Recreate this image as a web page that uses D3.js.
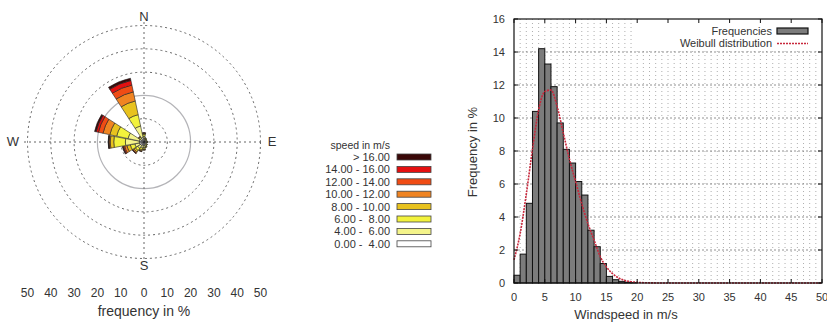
<!DOCTYPE html>
<html>
<head>
<meta charset="utf-8">
<script src="https://cdn.jsdelivr.net/npm/d3@7"></script>
<style>
  body { margin: 0; background: #fff; }
  svg text { font-family: "Liberation Sans", Arial, sans-serif; fill: #333; }
</style>
</head>
<body>
<svg id="chart" width="827" height="326"></svg>
<script>
// ── Wind rose data: 16 directions, % per speed class ──
const directions = ["N","NNE","NE","ENE","E","ESE","SE","SSE","S","SSW","SW","WSW","W","WNW","NW","NNW"];
const speedClasses = ["0.00 -  4.00","4.00 -  6.00","6.00 -  8.00","8.00 - 10.00","10.00 - 12.00","12.00 - 14.00","14.00 - 16.00","> 16.00"];
const classColors  = ["#ffffff","#f4f48a","#f2f23c","#e8c21e","#f08422","#f04c14","#e41010","#3a0808"];
const roseValues = [
  [1.5, 1.0, 0.8, 0.4, 0.2, 0.1, 0,   0  ],  // N
  [1.0, 0.5, 0.3, 0.1, 0,   0,   0,   0  ],  // NNE
  [0.8, 0.4, 0.2, 0.1, 0,   0,   0,   0  ],  // NE
  [0.8, 0.3, 0.2, 0,   0,   0,   0,   0  ],  // ENE
  [1.0, 0.4, 0.2, 0.1, 0,   0,   0,   0  ],  // E
  [0.8, 0.3, 0.1, 0,   0,   0,   0,   0  ],  // ESE
  [1.0, 0.5, 0.3, 0.1, 0,   0,   0,   0  ],  // SE
  [1.2, 0.7, 0.4, 0.2, 0,   0,   0,   0  ],  // SSE
  [1.5, 1.0, 0.6, 0.3, 0.1, 0,   0,   0  ],  // S
  [1.5, 1.2, 0.8, 0.5, 0.2, 0.1, 0,   0  ],  // SSW
  [1.8, 1.5, 1.2, 0.8, 0.5, 0.2, 0.1, 0  ],  // SW
  [2.0, 2.0, 2.0, 1.5, 1.0, 0.5, 0.3, 0.2],  // WSW
  [2.0, 6.0, 5.0, 1.5, 0.5, 0.2, 0.1, 0.1],  // W
  [2.0, 5.0, 5.0, 3.0, 3.0, 2.0, 1.0, 0.7],  // WNW
  [1.2, 0.8, 0.5, 0.3, 0.2, 0,   0,   0  ],  // NW
  [2.0, 5.0, 5.0, 6.0, 4.0, 3.0, 2.0, 1.0]   // NNW
];
const roseRings = [10, 20, 30, 40, 50];
const roseTicks = [-50, -40, -30, -20, -10, 0, 10, 20, 30, 40, 50];

// ── Histogram data: 1 m/s bins starting at 0 ──
const binStarts = d3.range(0, 20);
const binFreq = [0.47, 1.75, 4.83, 10.4, 14.2, 13.27, 11.9, 9.7, 8.1, 7.27,
                 6.15, 5.33, 3.2, 2.2, 1.18, 0.4, 0.2, 0.1, 0.05, 0.02];
const weibullX = [0, 1, 2, 3, 4, 5, 6, 7, 8, 9, 10, 11, 12, 13, 14, 15, 16, 17, 18, 19, 20, 22, 25, 30, 40, 50];
const weibullY = [1.4, 3.0, 5.4, 8.1, 10.5, 11.6, 11.7, 10.7, 9.1, 7.5, 6.15, 4.8, 3.6, 2.6, 1.6, 0.97, 0.57, 0.3, 0.15, 0.08, 0.04, 0.01, 0, 0, 0, 0];
const xTicks = d3.range(0, 51, 5);
const yTicks = d3.range(0, 17, 2);

const svg = d3.select("#chart");

// ════════ Wind rose ════════
const cx = 144, cy = 142;
const r = d3.scaleLinear().domain([0, 50]).range([0, 116.5]);
const rose = svg.append("g").attr("transform", `translate(${cx},${cy})`);

roseRings.forEach(v => {
  rose.append("circle")
    .attr("r", r(v))
    .attr("fill", "none")
    .attr("stroke", v === 20 ? "#b4b4b8" : "#666")
    .attr("stroke-width", v === 20 ? 1.2 : 1)
    .attr("stroke-dasharray", v === 20 ? null : "2,3");
});
rose.append("line").attr("x1", 0).attr("x2", 0).attr("y1", -r(51.5)).attr("y2", r(51.5))
  .attr("stroke", "#666").attr("stroke-dasharray", "2,3");
rose.append("line").attr("y1", 0).attr("y2", 0).attr("x1", -r(51.5)).attr("x2", r(51.5))
  .attr("stroke", "#666").attr("stroke-dasharray", "2,3");

const arc = d3.arc();
const halfW = 10.5 * Math.PI / 180;
directions.forEach((dir, i) => {
  const a = i * 22.5 * Math.PI / 180;
  let acc = 0;
  roseValues[i].forEach((v, k) => {
    if (v <= 0) return;
    rose.append("path")
      .attr("d", arc({innerRadius: r(acc), outerRadius: r(acc + v), startAngle: a - halfW, endAngle: a + halfW}))
      .attr("fill", classColors[k])
      .attr("stroke", "#222")
      .attr("stroke-width", 0.6);
    acc += v;
  });
});

// compass labels
[["N", 0, -121], ["S", 0, 128], ["W", -131, 3.5], ["E", 128, 3.5]].forEach(([t, x, y]) => {
  rose.append("text").attr("x", x).attr("y", y).attr("text-anchor", "middle")
    .attr("font-size", 13).text(t);
});
rose.selectAll("text.rtick").data(roseTicks).join("text")
  .attr("class", "rtick")
  .attr("x", d => d < 0 ? -r(-d) : r(d))
  .attr("y", 155)
  .attr("text-anchor", "middle")
  .attr("font-size", 12)
  .text(d => Math.abs(d));
rose.append("text").attr("x", 0).attr("y", 174).attr("text-anchor", "middle")
  .attr("font-size", 14).text("frequency in %");

// ── Speed legend ──
const lg = svg.append("g").attr("transform", "translate(390,0)");
lg.append("text").attr("x", 0).attr("y", 148.5).attr("text-anchor", "end")
  .attr("font-size", 10.5).text("speed in m/s");
speedClasses.slice().reverse().forEach((label, j) => {
  const y = 157 + j * 12.4;
  lg.append("text").attr("x", 0).attr("y", y + 4).attr("text-anchor", "end")
    .attr("font-size", 11).attr("xml:space", "preserve").text(label);
  lg.append("rect").attr("x", 7).attr("y", y - 3).attr("width", 34).attr("height", 6)
    .attr("fill", classColors[classColors.length - 1 - j])
    .attr("stroke", "#444").attr("stroke-width", 0.8);
});

// ════════ Histogram ════════
const L = 514, R = 822, T = 19, B = 283;
const x = d3.scaleLinear().domain([0, 50]).range([L, R]);
const y = d3.scaleLinear().domain([0, 16]).range([B, T]);
const hg = svg.append("g");

// grid
hg.selectAll("line.vgrid").data(d3.range(1, 50)).join("line")
  .attr("class", "vgrid")
  .attr("x1", d => x(d)).attr("x2", d => x(d)).attr("y1", T).attr("y2", B)
  .attr("stroke", "#999").attr("stroke-width", 0.8).attr("stroke-dasharray", "1,3");
hg.selectAll("line.hgrid").data(yTicks.slice(1, -1)).join("line")
  .attr("class", "hgrid")
  .attr("y1", d => y(d)).attr("y2", d => y(d)).attr("x1", L).attr("x2", R)
  .attr("stroke", "#777").attr("stroke-width", 0.8).attr("stroke-dasharray", "2,2");

// legend background hides grid
hg.append("rect").attr("x", 632).attr("y", T).attr("width", R - 632).attr("height", 31).attr("fill", "#fff");

// bars
hg.selectAll("rect.bar").data(binStarts).join("rect")
  .attr("class", "bar")
  .attr("x", d => x(d)).attr("width", d => x(d + 1) - x(d))
  .attr("y", (d, i) => y(binFreq[i])).attr("height", (d, i) => B - y(binFreq[i]))
  .attr("fill", "#7c7c7c").attr("stroke", "#111").attr("stroke-width", 1);

// Weibull curve
hg.append("path")
  .datum(weibullX.map((v, i) => [v, weibullY[i]]))
  .attr("d", d3.line().x(d => x(d[0])).y(d => y(d[1])).curve(d3.curveMonotoneX))
  .attr("fill", "none").attr("stroke", "#c8283c").attr("stroke-width", 1.6)
  .attr("stroke-dasharray", "2,1");

// frame
hg.append("rect").attr("x", L).attr("y", T).attr("width", R - L).attr("height", B - T)
  .attr("fill", "none").attr("stroke", "#111").attr("stroke-width", 1.2);

// ticks
xTicks.forEach(t => {
  hg.append("line").attr("x1", x(t)).attr("x2", x(t)).attr("y1", B).attr("y2", B - 4).attr("stroke", "#111");
  hg.append("line").attr("x1", x(t)).attr("x2", x(t)).attr("y1", T).attr("y2", T + 4).attr("stroke", "#111");
});
yTicks.forEach(t => {
  hg.append("line").attr("x1", L).attr("x2", L + 4).attr("y1", y(t)).attr("y2", y(t)).attr("stroke", "#111");
  hg.append("line").attr("x1", R).attr("x2", R - 4).attr("y1", y(t)).attr("y2", y(t)).attr("stroke", "#111");
});
hg.selectAll("text.xt").data(xTicks).join("text")
  .attr("class", "xt").attr("x", d => x(d)).attr("y", 301)
  .attr("text-anchor", "middle").attr("font-size", 11).text(d => d);
hg.selectAll("text.yt").data(yTicks).join("text")
  .attr("class", "yt").attr("x", 505).attr("y", d => y(d) + 4)
  .attr("text-anchor", "end").attr("font-size", 11).text(d => d);

hg.append("text").attr("x", 626).attr("y", 319).attr("text-anchor", "middle")
  .attr("font-size", 13).text("Windspeed in m/s");
hg.append("text").attr("transform", "translate(477,152) rotate(-90)")
  .attr("text-anchor", "middle").attr("font-size", 13).text("Frequency in %");

// histogram legend
hg.append("text").attr("x", 772).attr("y", 35).attr("text-anchor", "end")
  .attr("font-size", 11).text("Frequencies");
hg.append("rect").attr("x", 777).attr("y", 28).attr("width", 31).attr("height", 6)
  .attr("fill", "#7c7c7c").attr("stroke", "#111").attr("stroke-width", 1.2);
hg.append("text").attr("x", 772).attr("y", 47).attr("text-anchor", "end")
  .attr("font-size", 11).text("Weibull distribution");
hg.append("line").attr("x1", 777).attr("x2", 808).attr("y1", 43.5).attr("y2", 43.5)
  .attr("stroke", "#c8283c").attr("stroke-width", 1.6).attr("stroke-dasharray", "2,1");
</script>
</body>
</html>
